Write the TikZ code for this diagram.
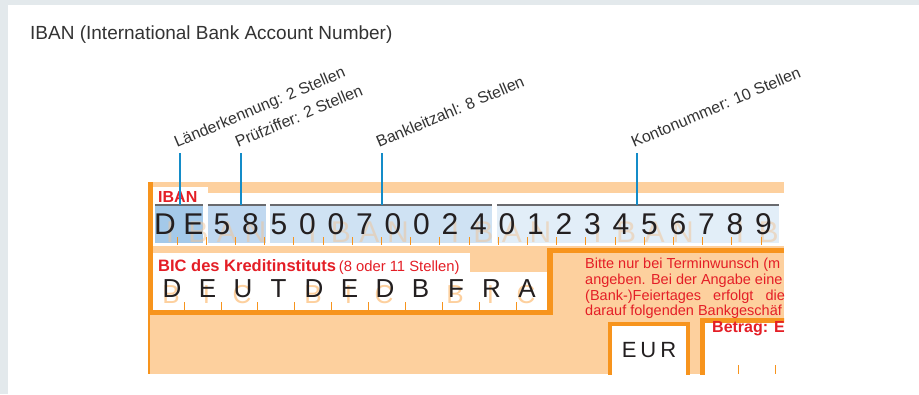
\documentclass[tikz,border=0pt]{standalone}
\usepackage{fontspec}
\setmainfont{Liberation Sans}
\usetikzlibrary{positioning}
\definecolor{panelg}{RGB}{227,233,236}
\definecolor{orangeD}{RGB}{247,148,29}
\definecolor{orangeL}{RGB}{253,208,158}
\definecolor{blueA}{RGB}{164,201,233}
\definecolor{blueB}{RGB}{192,216,240}
\definecolor{blueC}{RGB}{207,226,243}
\definecolor{blueD}{RGB}{226,238,248}
\definecolor{leadb}{RGB}{20,140,200}
\definecolor{formred}{RGB}{228,30,38}
\definecolor{inkg}{RGB}{35,31,32}
\definecolor{barg}{RGB}{105,106,110}
\definecolor{wmark}{RGB}{240,196,150}
\definecolor{capg}{RGB}{51,51,51}

\begin{document}
\begin{tikzpicture}[x=1pt, y=-1pt,
  grp/.style={inner sep=0pt, minimum height=38pt},
  barline/.style={barg, line width=2.2pt},
  digit/.style={inner sep=0pt, text=inkg, font=\fontsize{30}{30}\selectfont},
  wmk/.style={inner sep=0pt, text=wmark, text opacity=0.5, font=\fontsize{30}{30}\selectfont},
  bicl/.style={inner sep=0pt, text=inkg, font=\fontsize{26}{26}\selectfont},
  bicw/.style={inner sep=0pt, text=orangeL, font=\fontsize{26}{26}\selectfont},
  tickmark/.style={orangeD, line width=0.8pt},
  note/.style={inner sep=0pt, anchor=base west, text=formred, font=\fontsize{14.5}{15}\selectfont},
  leader/.style={leadb, line width=1.1pt},
  lbl/.style={inner sep=0pt, anchor=base west, rotate=23, text=capg, font=\fontsize{16}{16}\selectfont},
]
  % --- panel ---
  \useasboundingbox (0,0) rectangle (919,394);
  \fill[panelg] (0,0) rectangle (919,394);
  \fill[white] (8,5) rectangle (919,394);
  \node[anchor=base west, inner sep=0pt, text=capg, font=\fontsize{19}{19}\selectfont]
    (title) at (30,39.5) {IBAN (International Bank Account Number)};

  % --- form ---
  \begin{scope}
    \clip (148,182) rectangle (784,374);
    \fill[orangeL] (150,182) rectangle (784,374);
    \fill[orangeD] (148,182) rectangle (153,315);
    \fill[orangeD] (148,315) rectangle (150,374);
    % IBAN row
    \fill[white] (153,193) rectangle (784,246);
    \fill[white] (153,187) rectangle (208,205);
    \node[anchor=base west, inner sep=0pt, text=formred, font=\fontsize{16}{16}\selectfont\bfseries]
      (ibanlbl) at (158,202) {IBAN};
    \node[grp, fill=blueA, minimum width=48pt] (g1) at (179,224) {};
    \node[grp, fill=blueB, minimum width=58pt] (g2) at (237,224) {};
    \node[grp, fill=blueC, minimum width=222pt] (g3) at (381,224) {};
    \node[grp, fill=blueD, minimum width=282pt] (g4) at (638,224) {};
    \foreach \g in {g1,g2,g3,g4}
      \draw[barline] (\g.north west) -- (\g.north east);
    \foreach \w/\k in {I/0,B/1,A/2,N/3,I/5,B/6,A/7,N/8,I/10,B/11,A/12,N/13,I/15,B/16,A/17,N/18,I/20,B/21}
      \node[wmk] (w\k) at ({170+28.5*\k},232) {\w};
    \foreach \d [count=\i from 0] in {D,E,5,8,5,0,0,7,0,0,2,4,0,1,2,3,4,5,6,7,8,9}
      \node[digit] (d\i) at ({165+28.5*\i},224) {\d};
    \foreach \k in {0,...,20}
      \draw[tickmark] ({177+29.2*\k},237) -- ++(0,8);

    % BIC box
    \fill[white] (153,253) rectangle (470,272);
    \fill[white] (153,272) rectangle (547,310);
    \fill[orangeD] (148,310) rectangle (553,315);
    \fill[orangeD] (547,248) rectangle (553,315);
    \fill[orangeD] (547,248) rectangle (784,253);
    \node[anchor=base west, inner sep=0pt, text=formred] (biclbl) at (158,271)
      {{\fontsize{16.5}{16}\selectfont\bfseries BIC des Kreditinstituts} \fontsize{14.8}{16}\selectfont(8 oder 11 Stellen)};
    \foreach \w/\k in {B/0,I/1,C/2,B/4,I/5,C/6,B/8,I/9,C/10}
      \node[bicw] (v\k) at ({171+35.5*\k},295) {\w};
    \foreach \c [count=\i from 0] in {D,E,U,T,D,E,D,B,F,R,A}
      \node[bicl] (b\i) at ({172+35.5*\i},289) {\c};
    \foreach \k in {0,...,9}
      \draw[tickmark] ({184+36.9*\k},302) -- ++(0,8);

    % notice text
    \node[note] (n1) at (585,268) {Bitte nur bei Terminwunsch (m};
    \node[note] (n2) at (585,284) {angeben. Bei der Angabe eine};
    \node[note] (n3) at (585,300) {(Bank-)Feiertages\hspace{12pt}erfolgt\hspace{12pt}die};
    \node[note] (n4) at (585,315) {darauf folgenden Bankgeschäf};

    % currency and amount
    \draw[orangeD, line width=4pt, fill=white] (610,324) rectangle (688,390);
    \node[inner sep=0pt, text=inkg, font=\fontsize{22}{22}\selectfont] (cur) at (649,350) {E\hspace{4pt}U\hspace{4pt}R};
    \draw[orangeD, line width=5pt, fill=white] (702.5,320.5) rectangle (810,390);
    \node[anchor=base west, inner sep=0pt, text=formred, font=\fontsize{16}{16}\selectfont\bfseries]
      (betrag) at (712,332) {Betrag: E};
    \foreach \x in {738,775}
      \draw[tickmark] (\x,365) -- ++(0,9);
  \end{scope}

  % --- leaders ---
  \coordinate (e1) at (180,153);
  \coordinate (e2) at (241,153);
  \coordinate (e3) at (382,153);
  \coordinate (e4) at (637,153);
  \draw[leader] (e1) -- (e1 |- g1.north);
  \draw[leader] (e2) -- (e2 |- g2.north);
  \draw[leader] (e3) -- (e3 |- g3.north);
  \draw[leader] (e4) -- (e4 |- g4.north);
  \node[lbl] (l1) at ([shift={(-3pt,5pt)}]e1) {Länderkennung: 2 Stellen};
  \node[lbl] (l2) at ([shift={(-3pt,5pt)}]e2) {Prüfziffer: 2 Stellen};
  \node[lbl] (l3) at ([shift={(-3pt,5pt)}]e3) {Bankleitzahl: 8 Stellen};
  \node[lbl] (l4) at ([shift={(-3pt,5pt)}]e4) {Kontonummer: 10 Stellen};
\end{tikzpicture}
\end{document}
